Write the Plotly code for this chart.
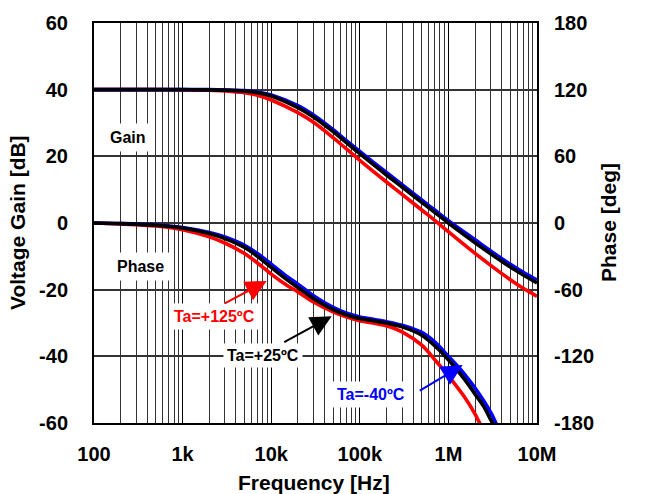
import plotly.graph_objects as go

# Frequencies [Hz]
freq_gain = [100, 200, 500, 1e3, 2e3, 3e3, 5e3, 7e3, 1e4, 2e4, 3e4, 5e4, 7e4, 1e5,
             2e5, 3e5, 5e5, 7e5, 1e6, 2e6, 3e6, 5e6, 7e6, 1e7]

# Voltage gain [dB]
gain_125 = [40, 40, 40, 39.95, 39.85, 39.65, 39.1, 38.3, 36.9, 33.1, 30.2, 25.6, 22.3, 18.8,
            12.3, 8.6, 3.9, 0.8, -2.6, -9.1, -12.7, -17.0, -19.6, -22.0]
gain_25 = [40, 40, 40, 40, 39.95, 39.85, 39.6, 39.1, 38.1, 34.6, 31.8, 27.4, 24.2, 20.8,
           14.4, 10.8, 6.2, 3.2, 0.0, -5.9, -9.2, -13.2, -15.6, -18.0]
gain_m40 = [40, 40, 40, 40, 40, 39.9, 39.7, 39.3, 38.4, 35.2, 32.4, 28.0, 24.8, 21.45,
            15.15, 11.5, 6.9, 3.9, 0.7, -5.05, -8.4, -12.4, -14.8, -17.1]

# Phase [deg]
freq_ph_125 = [100, 200, 500, 1e3, 2e3, 3e3, 5e3, 7e3, 1e4, 1.5e4, 2e4, 3e4, 5e4, 7e4, 1e5,
               1.5e5, 2e5, 3e5, 5e5, 7e5, 1e6, 1.5e6, 2e6, 2.2e6, 2.4e6]
phase_125 = [0, -0.8, -2.7, -6, -12.5, -18, -27.5, -36, -46, -56, -62, -71, -80, -84.5, -88,
             -90.5, -92.5, -98, -110, -123, -137.5, -156, -172, -178.5, -184]
freq_ph_25 = [100, 200, 500, 1e3, 2e3, 3e3, 5e3, 7e3, 1e4, 1.5e4, 2e4, 3e4, 5e4, 7e4, 1e5,
              1.5e5, 2e5, 3e5, 5e5, 7e5, 1e6, 1.5e6, 2e6, 2.5e6, 3e6, 3.2e6, 3.5e6]
phase_25 = [0, -0.6, -2, -4.5, -9.5, -14, -22, -30, -40, -51, -58, -68, -78, -82.5, -86,
            -88.3, -90, -93.5, -101, -110.5, -123, -140, -154, -165, -177, -181, -186]
freq_ph_m40 = [100, 200, 500, 1e3, 2e3, 3e3, 5e3, 7e3, 1e4, 1.5e4, 2e4, 3e4, 5e4, 7e4, 1e5,
               1.5e5, 2e5, 3e5, 5e5, 7e5, 1e6, 1.5e6, 2e6, 2.5e6, 3e6, 3.3e6, 3.6e6]
phase_m40 = [0, -0.5, -1.8, -4, -8.5, -12.5, -20, -27.5, -37, -48, -55, -65.5, -76, -81, -84.5,
             -87, -88.8, -92, -98.5, -107, -120, -135.5, -148.5, -160, -170.5, -177, -184]

x_tickvals = [100, 1e3, 1e4, 1e5, 1e6, 1e7]
x_ticktext = ["100", "1k", "10k", "100k", "1M", "10M"]
x_minor = [m * 10 ** e for e in range(2, 7) for m in range(2, 10)]
y_ticks = [-60, -40, -20, 0, 20, 40, 60]
y_ticktext = ["-60", "-40", "-20", "0", "20", "40", "60"]
y2_ticks = [-180, -120, -60, 0, 60, 120, 180]
y2_ticktext = ["-180", "-120", "-60", "0", "60", "120", "180"]

RED = "#ff0000"
BLUE = "#0000ff"
BLACK = "#000000"
FONT = "Liberation Sans, Arial, sans-serif"
LW = 3.6

fig = go.Figure()
fig.add_trace(go.Scatter(x=freq_gain, y=gain_125, mode="lines", line=dict(color=RED, width=LW, shape="spline"), yaxis="y"))
fig.add_trace(go.Scatter(x=freq_gain, y=gain_m40, mode="lines", line=dict(color=BLUE, width=LW, shape="spline"), yaxis="y"))
fig.add_trace(go.Scatter(x=freq_gain, y=gain_25, mode="lines", line=dict(color=BLACK, width=LW, shape="spline"), yaxis="y"))
fig.add_trace(go.Scatter(x=freq_ph_125, y=phase_125, mode="lines", line=dict(color=RED, width=LW, shape="spline"), yaxis="y2"))
fig.add_trace(go.Scatter(x=freq_ph_m40, y=phase_m40, mode="lines", line=dict(color=BLUE, width=LW, shape="spline"), yaxis="y2"))
fig.add_trace(go.Scatter(x=freq_ph_25, y=phase_25, mode="lines", line=dict(color=BLACK, width=LW, shape="spline"), yaxis="y2"))

L, R, T, B = 94, 110, 18, 71
W, H = 647, 494
PW, PH = W - L - R, H - T - B


def px(xp, yp):
    return (xp - L) / PW, (H - B - yp) / PH


annotations = []


def text_ann(txt, xp, yp, color, size=16, angle=0, bg=None, pad=3):
    x, y = px(xp, yp)
    a = dict(text=txt, x=x, y=y, xref="paper", yref="paper", showarrow=False,
             xanchor="center", yanchor="middle", textangle=angle,
             font=dict(family=FONT, size=size, color=color, weight="bold"),
             borderpad=pad)
    if bg is not None:
        a["bgcolor"] = bg
    annotations.append(a)


def arrow_ann(head, tail, color):
    x, y = px(*head)
    annotations.append(dict(text="", x=x, y=y, xref="paper", yref="paper", showarrow=True,
                            ax=tail[0] - head[0], ay=tail[1] - head[1], axref="pixel", ayref="pixel",
                            arrowhead=2, arrowsize=2.1, arrowwidth=2, arrowcolor=color, standoff=0))


text_ann("Gain", 128, 133.5, BLACK, bg="white", pad=5)
text_ann("Phase", 140, 265, BLACK, bg="white", pad=5)
text_ann("Ta=+125ºC", 214, 315, RED, bg="white", pad=4)
text_ann("Ta=+25ºC", 262.5, 355, BLACK, bg="white", pad=3)
text_ann("Ta=-40ºC", 371, 394.5, BLUE, bg="white", pad=4)
arrow_ann((266.7, 279.3), (223.3, 302.3), RED)
arrow_ann((331.7, 315.0), (282.7, 341.7), BLACK)
arrow_ann((462.7, 364.3), (418.3, 390.7), BLUE)
text_ann("Frequency [Hz]", 314, 483, BLACK, size=21, pad=0)
text_ann("Voltage Gain [dB]", 17, 220.5, BLACK, size=21, angle=-90, pad=0)
text_ann("Phase [deg]", 608, 220.5, BLACK, size=21, angle=-90, pad=0)

tickfont = dict(family=FONT, size=20, color=BLACK, weight="bold")

fig.update_layout(
    width=W, height=H,
    margin=dict(l=L, r=R, t=T, b=B, pad=0),
    paper_bgcolor="white", plot_bgcolor="white",
    showlegend=False,
    annotations=annotations,
    xaxis=dict(type="log", range=[2, 7], tickvals=x_tickvals, ticktext=x_ticktext,
               tickfont=tickfont, ticks="", ticklabelstandoff=12,
               showgrid=True, gridcolor="#000000", gridwidth=1,
               minor=dict(tickvals=x_minor, showgrid=True, gridcolor="#333333", gridwidth=1, ticks=""),
               showline=True, linecolor=BLACK, linewidth=2, mirror=True, zeroline=False),
    yaxis=dict(range=[-60, 60], tickvals=y_ticks, ticktext=y_ticktext, tickfont=tickfont, ticks="",
               ticklabelstandoff=20, showgrid=True, gridcolor="#333333", gridwidth=1.5,
               showline=True, linecolor=BLACK, linewidth=2, zeroline=False),
    yaxis2=dict(range=[-180, 180], tickvals=y2_ticks, ticktext=y2_ticktext, tickfont=tickfont, ticks="",
                ticklabelstandoff=11, overlaying="y", side="right", showgrid=False,
                showline=True, linecolor=BLACK, linewidth=2, zeroline=False),
)

fig.write_html("out.html")
